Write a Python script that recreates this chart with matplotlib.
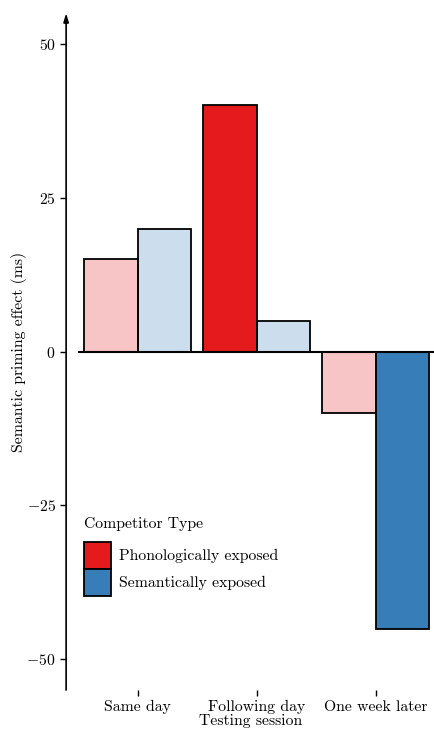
import numpy as np
import matplotlib.pyplot as plt
from matplotlib.colors import to_rgba
from matplotlib.patches import Patch

plt.rcParams['font.family'] = 'cmr10'
plt.rcParams['mathtext.fontset'] = 'cm'
plt.rcParams['axes.formatter.use_mathtext'] = True

# data
sessions = ["Same day", "Following day", "One week later"]
competitors = ["Phonologically exposed", "Semantically exposed"]
phon_effect = [15, 40, -10]
sem_effect = [20, 5, -45]
# which bars are drawn at full colour (the rest are faded)
phon_full = [False, True, False]
sem_full = [False, False, True]

colors = ["#E41A1C", "#377EB8"]
width = 0.45
fs = 11.3

fig = plt.figure(figsize=(4.35, 7.31), dpi=100)
ax = fig.add_axes([0.152, 0.056, 0.848, 0.926])

x = np.arange(len(sessions))
for vals, full, col, off in [(phon_effect, phon_full, colors[0], -width / 2),
                             (sem_effect, sem_full, colors[1], width / 2)]:
    faces = [to_rgba(col, 1.0 if f else 0.25) for f in full]
    ax.bar(x + off, vals, width, color=faces, edgecolor="black", linewidth=1.3, zorder=2)

# zero line
ax.hlines(0, -0.5, 2.5, color="black", linewidth=1.5, zorder=3)

ax.set_xlim(-0.6, 2.5)
ax.set_ylim(-55, 55)
ax.set_yticks([-50, -25, 0, 25, 50])
ax.set_xticks(x)
ax.set_xticklabels(sessions)
ax.tick_params(labelsize=fs, length=4, width=1, color="black")
ax.tick_params(axis="x", pad=3)

for s in ["top", "right", "bottom", "left"]:
    ax.spines[s].set_visible(False)

# y axis with arrow head
ax.annotate("", xy=(0, 1.0), xytext=(0, 0), xycoords="axes fraction",
            arrowprops=dict(arrowstyle="-|>,head_length=0.5,head_width=0.15",
                            color="black", lw=1.2, shrinkA=0, shrinkB=0))

ax.set_ylabel("Semantic priming effect (ms)", fontsize=fs)
ax.yaxis.set_label_coords(-0.105, 0.5)
ax.set_xlabel("Testing session", fontsize=fs, labelpad=0)

handles = [Patch(facecolor=c, edgecolor="black", linewidth=1.3) for c in colors]
leg = ax.legend(handles, competitors, title="Competitor Type", loc="upper left",
                bbox_to_anchor=(0.193, 0.293), bbox_transform=fig.transFigure,
                frameon=False, fontsize=fs, title_fontsize=fs,
                handlelength=1.72, handleheight=2.27, labelspacing=0.0,
                handletextpad=0.5, borderaxespad=0, borderpad=0)
leg._legend_box.align = "left"
leg._legend_box.sep = 8

fig.savefig("out.png", dpi=100)
